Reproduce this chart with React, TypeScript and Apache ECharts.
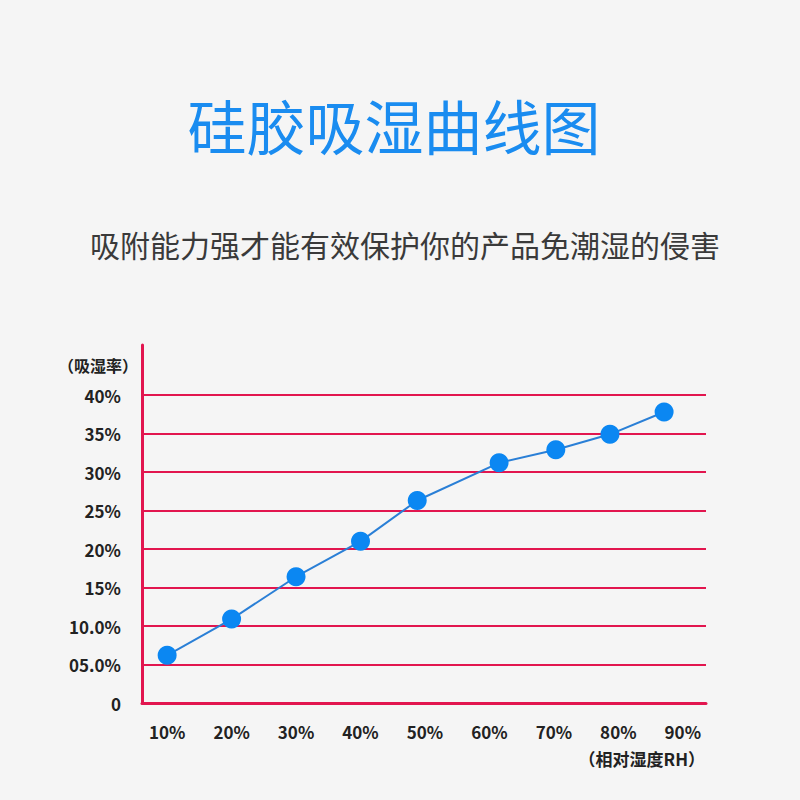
import React, { useEffect, useRef } from 'react';
import * as echarts from 'echarts';

const titleText = '硅胶吸湿曲线图';
const subtitleText = '吸附能力强才能有效保护你的产品免潮湿的侵害';
const yAxisName = '（吸湿率）';
const xAxisName = '（相对湿度RH）';
const xTickValues = [10, 20, 30, 40, 50, 60, 70, 80, 90];
const xTickLabels = ['10%', '20%', '30%', '40%', '50%', '60%', '70%', '80%', '90%'];
const yTickLabels = ['0', '05.0%', '10.0%', '15%', '20%', '25%', '30%', '35%', '40%'];
// point positions (relative humidity, %)
const humidity = [10, 20, 30, 40, 48.8, 61.5, 70.3, 78.7, 87.1];
// absorption rate, %
const absorption = [6.2, 10.9, 16.4, 21.0, 26.3, 31.2, 32.9, 34.9, 37.8];

const RED = '#e2164f';
const FONT = "'Noto Sans CJK SC', 'Noto Sans', sans-serif";

export default function App() {
  const ref = useRef<HTMLDivElement>(null);
  useEffect(() => {
    document.body.style.margin = '0';
    const chart = echarts.init(ref.current!, undefined, { renderer: 'svg' });
    const splitColors = yTickLabels.map(() => RED).concat(['transparent', 'transparent', 'transparent']);
    chart.setOption({
      animation: false,
      backgroundColor: '#f5f5f5',
      textStyle: { fontFamily: FONT },
      graphic: [
        {
          type: 'text',
          x: 394,
          y: 124,
          style: {
            text: titleText,
            fill: '#1a8cf0',
            font: `normal 59px ${FONT}`,
            align: 'center',
            verticalAlign: 'middle',
          },
        },
        {
          type: 'text',
          x: 405,
          y: 244,
          style: {
            text: subtitleText,
            fill: '#3a3a3a',
            font: `normal 30px ${FONT}`,
            align: 'center',
            verticalAlign: 'middle',
          },
        },
      ],
      grid: { left: 142, right: 94, top: 345, bottom: 97, containLabel: false },
      xAxis: {
        type: 'value',
        min: 6.1,
        max: 93.6,
        name: xAxisName,
        nameLocation: 'end',
        nameGap: -1,
        nameTextStyle: {
          align: 'right',
          verticalAlign: 'top',
          padding: [47, 0, 0, 0],
          fontSize: 17,
          fontWeight: 'bold',
          color: '#222',
          fontFamily: FONT,
        },
        axisLine: { show: true, lineStyle: { color: RED, width: 3 } },
        axisTick: { show: false },
        splitLine: { show: false },
        axisLabel: {
          customValues: xTickValues,
          formatter: (v: number) => {
            const i = xTickValues.indexOf(Math.round(v));
            return i >= 0 ? xTickLabels[i] : '';
          },
          margin: 20,
          fontSize: 17,
          fontWeight: 'bold',
          color: '#222',
          fontFamily: FONT,
        },
      },
      yAxis: {
        type: 'value',
        min: 0,
        max: 46.5,
        interval: 5,
        name: yAxisName,
        nameLocation: 'end',
        nameGap: -20,
        nameTextStyle: {
          align: 'right',
          verticalAlign: 'middle',
          padding: [0, 4, 0, 0],
          fontSize: 16,
          fontWeight: 'bold',
          color: '#222',
          fontFamily: FONT,
        },
        axisLine: { show: true, lineStyle: { color: RED, width: 3 } },
        axisTick: { show: false },
        splitLine: { show: true, lineStyle: { color: splitColors, width: 2 } },
        axisLabel: {
          margin: 21,
          fontSize: 17,
          fontWeight: 'bold',
          color: '#222',
          fontFamily: FONT,
          formatter: (v: number) => {
            const i = Math.round(v / 5);
            return Math.abs(v - i * 5) < 1e-6 && i < yTickLabels.length ? yTickLabels[i] : '';
          },
        },
      },
      series: [
        {
          type: 'line',
          data: humidity.map((h, i) => [h, absorption[i]]),
          symbol: 'circle',
          symbolSize: 19,
          lineStyle: { color: '#2a7fd6', width: 2 },
          itemStyle: { color: '#0b87f2' },
          z: 5,
        },
      ],
    });
    return () => chart.dispose();
  }, []);
  return <div ref={ref} style={{ position: 'absolute', left: 0, top: 0, width: 800, height: 800 }} />;
}
